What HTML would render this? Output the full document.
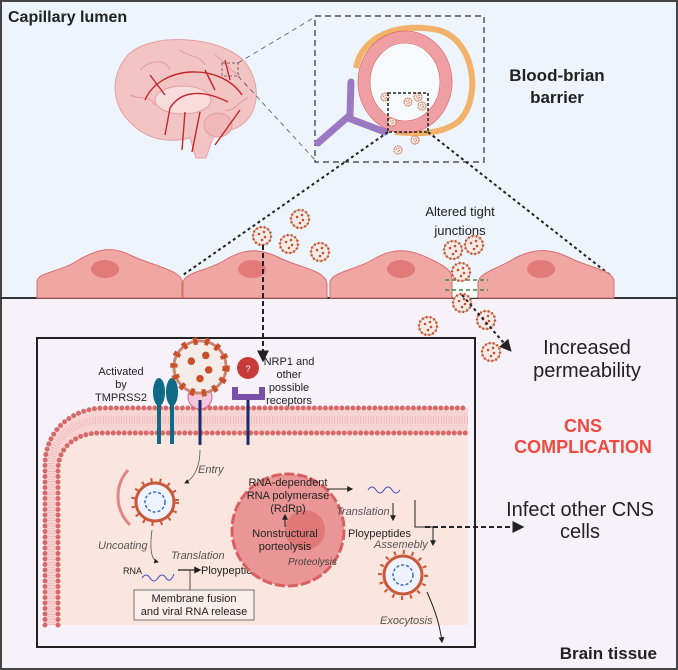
<!DOCTYPE html>
<html><head><meta charset="utf-8"><style>
html,body{margin:0;padding:0;background:#fff}
svg{display:block;font-family:"Liberation Sans",sans-serif}
</style></head><body>
<svg width="678" height="670" viewBox="0 0 678 670" xmlns="http://www.w3.org/2000/svg">
<defs>
<g id="v"><circle r="9" fill="#f3ece8" stroke="#c98670" stroke-width="1"/><circle r="9" fill="none" stroke="#c8502a" stroke-width="2.5" stroke-dasharray="1.5 2.5"/><circle cx="-3" cy="-2" r="1.3" fill="#c8502a"/><circle cx="3" cy="1" r="1.3" fill="#c8502a"/><circle cx="0" cy="4" r="1.3" fill="#c8502a"/><circle cx="2" cy="-4" r="1.3" fill="#c8502a"/></g>
<marker id="ah" viewBox="0 0 10 10" refX="8" refY="5" markerWidth="6" markerHeight="6" orient="auto"><path d="M0,0L10,5L0,10z" fill="#222"/></marker>
</defs>
<rect x="0" y="0" width="678" height="298" fill="#edf4fb"/>
<rect x="0" y="298" width="678" height="372" fill="#f7f1fa"/>
<rect x="1" y="1" width="676" height="668" fill="none" stroke="#444" stroke-width="2"/>
<line x1="0" y1="298" x2="678" y2="298" stroke="#333" stroke-width="2"/>
<text x="8" y="22" font-size="16" font-weight="bold" fill="#222">Capillary lumen</text>
<!-- brain -->
<path d="M128,55 C150,32 220,35 245,62 C262,85 258,110 245,122 C232,134 218,130 212,140 L206,158 L196,158 L190,138 C170,143 148,140 133,125 C110,105 110,75 128,55z" fill="#f3c4c4" stroke="#e6a0a0"/>
<path d="M140,70 C150,60 165,58 170,70 M180,50 C190,58 200,55 205,65 M215,55 C225,62 230,72 240,75 M130,95 C140,100 150,95 155,105 M225,110 C235,112 240,100 248,98" fill="none" stroke="#e39a9a" stroke-width="1"/>
<ellipse cx="183" cy="100" rx="28" ry="14" fill="#f8dcdc" stroke="#e0a0a0"/>
<ellipse cx="218" cy="125" rx="14" ry="12" fill="#f0b8b8" stroke="#e0a0a0"/>
<path d="M145,100 C160,65 220,62 242,95 M165,135 L170,108 C180,92 200,88 228,102 M185,112 L182,150 M200,112 L192,152 M150,75 L165,95 M205,70 L215,90 M225,60 L230,80 M240,110 L215,145" fill="none" stroke="#c0282c" stroke-width="1.4"/>
<rect x="222" y="63" width="16" height="13" fill="none" stroke="#555" stroke-dasharray="3 2" stroke-width="0.8"/>
<line x1="238" y1="63" x2="315" y2="17" stroke="#555" stroke-dasharray="5 4" stroke-width="0.8"/>
<line x1="238" y1="76" x2="315" y2="160" stroke="#555" stroke-dasharray="5 4" stroke-width="0.8"/>
<rect x="315" y="16" width="169" height="146" fill="none" stroke="#333" stroke-dasharray="6 4" stroke-width="1.2"/>
<!-- capillary -->
<path d="M356,68 C362,35 400,22 438,30 C476,40 482,100 458,122 C440,135 418,134 395,132" fill="none" stroke="#f2b26a" stroke-width="6"/>
<path d="M318,143 L350,115 L351,82" fill="none" stroke="#9b79c2" stroke-width="7" stroke-linecap="round"/>
<path d="M348,118 L385,132" stroke="#9b79c2" stroke-width="7" stroke-linecap="round"/>
<ellipse cx="405" cy="82" rx="41" ry="45" fill="#f7fafd" stroke="#ef9ea3" stroke-width="11"/>
<ellipse cx="405" cy="82" rx="35" ry="39" fill="none" stroke="#d66" stroke-width="0.8"/>
<ellipse cx="405" cy="82" rx="47" ry="51" fill="none" stroke="#d66" stroke-width="0.8"/>
<use href="#v" transform="translate(385,97) scale(0.45)"/><use href="#v" transform="translate(418,97) scale(0.45)"/><use href="#v" transform="translate(408,102) scale(0.45)"/><use href="#v" transform="translate(415,140) scale(0.45)"/><use href="#v" transform="translate(398,150) scale(0.45)"/><use href="#v" transform="translate(392,122) scale(0.45)"/><use href="#v" transform="translate(422,106) scale(0.45)"/>
<rect x="388" y="93" width="40" height="39" fill="none" stroke="#222" stroke-dasharray="3 2" stroke-width="1.5"/>
<line x1="388" y1="132" x2="183" y2="275" stroke="#222" stroke-dasharray="3 3" stroke-width="2"/>
<line x1="428" y1="132" x2="610" y2="275" stroke="#222" stroke-dasharray="3 3" stroke-width="2"/>
<text x="557" y="81" font-size="17" font-weight="bold" text-anchor="middle" fill="#222">Blood-brian</text>
<text x="557" y="103" font-size="17" font-weight="bold" text-anchor="middle" fill="#222">barrier</text>
<!-- cells -->
<g fill="#f0a7a3" stroke="#d86f6e" stroke-width="1">
<path d="M37,298 L37,282 C37,272 60,272 75,262 C95,250 110,245 130,255 C150,265 182,270 182,282 L182,298z"/>
<path d="M183,298 L183,282 C185,272 210,270 225,260 C245,248 260,248 280,258 C300,268 327,270 327,285 L327,298z"/>
<path d="M330,298 L330,282 C332,272 355,270 372,260 C392,248 408,248 428,258 C450,268 452,272 452,282 L452,298z"/>
<path d="M478,298 L478,282 C480,272 500,268 515,258 C535,248 550,248 570,258 C590,268 614,270 614,282 L614,298z"/>
</g>
<g fill="#e27a7a"><ellipse cx="105" cy="269" rx="14" ry="9"/><ellipse cx="252" cy="269" rx="14" ry="9"/><ellipse cx="401" cy="269" rx="14" ry="9"/><ellipse cx="541" cy="269" rx="14" ry="9"/></g>
<rect x="453" y="278" width="24" height="20" fill="#fff" opacity="0.8"/>
<line x1="445" y1="280" x2="488" y2="280" stroke="#3a8a3a" stroke-dasharray="4 3" stroke-width="1.5"/>
<line x1="445" y1="290" x2="488" y2="290" stroke="#3a8a3a" stroke-dasharray="4 3" stroke-width="1.5"/>
<text x="460" y="216" font-size="13" text-anchor="middle" fill="#222">Altered tight</text>
<text x="460" y="235" font-size="13" text-anchor="middle" fill="#222">junctions</text>
<use href="#v" transform="translate(262,236)"/><use href="#v" transform="translate(300,219)"/><use href="#v" transform="translate(289,244)"/><use href="#v" transform="translate(320,252)"/>
<use href="#v" transform="translate(453,250)"/><use href="#v" transform="translate(474,245)"/><use href="#v" transform="translate(461,272)"/><use href="#v" transform="translate(462,303)"/><use href="#v" transform="translate(486,320)"/><use href="#v" transform="translate(428,326)"/><use href="#v" transform="translate(491,352)"/>
<line x1="263" y1="245" x2="263" y2="360" stroke="#222" stroke-dasharray="5 3" stroke-width="2" marker-end="url(#ah)"/>
<line x1="462" y1="295" x2="510" y2="350" stroke="#222" stroke-dasharray="3 3" stroke-width="2" marker-end="url(#ah)"/>
<text x="587" y="354" font-size="20" text-anchor="middle" fill="#222">Increased</text>
<text x="587" y="377" font-size="20" text-anchor="middle" fill="#222">permeability</text>
<text x="583" y="432" font-size="18" font-weight="bold" text-anchor="middle" fill="#f04a3f">CNS</text>
<text x="583" y="453" font-size="18" font-weight="bold" text-anchor="middle" fill="#f04a3f">COMPLICATION</text>
<text x="580" y="516" font-size="20" text-anchor="middle" fill="#222">Infect other CNS</text>
<text x="580" y="538" font-size="20" text-anchor="middle" fill="#222">cells</text>
<text x="657" y="659" font-size="17" font-weight="bold" text-anchor="end" fill="#222">Brain tissue</text>
<!-- inner box -->
<rect x="37" y="338" width="438" height="309" fill="none" stroke="#222" stroke-width="2"/>
<path d="M58,625 L58,470 C58,448 75,433 100,433 L468,433 L468,625z" fill="#fae5df"/>
<path d="M45,625 L45,465 C45,432 70,408 105,408 L468,408 L468,433 L100,433 C75,433 58,448 58,470 L58,625z" fill="#f6d4d2"/>
<path d="M45,625 L45,465 C45,432 70,408 105,408 L468,408" fill="none" stroke="#d66a6a" stroke-width="5" stroke-linecap="round" stroke-dasharray="0 5.5"/>
<path d="M58,625 L58,470 C58,448 75,433 100,433 L468,433" fill="none" stroke="#d66a6a" stroke-width="5" stroke-linecap="round" stroke-dasharray="0 5.5"/>
<path d="M51,625 L51,467 C51,440 72,420 102,420 L468,420" fill="none" stroke="#eab0b0" stroke-width="8" stroke-dasharray="0.6 2"/>
<text x="121" y="375" font-size="11" text-anchor="middle" fill="#222">Activated</text>
<text x="121" y="388" font-size="11" text-anchor="middle" fill="#222">by</text>
<text x="121" y="401" font-size="11" text-anchor="middle" fill="#222">TMPRSS2</text>
<g fill="#0f6a86"><ellipse cx="159" cy="392" rx="6" ry="14"/><ellipse cx="172" cy="392" rx="6" ry="14"/><rect x="157" y="400" width="4" height="44"/><rect x="170" y="400" width="4" height="44"/></g>
<circle cx="200" cy="397" r="12" fill="#f4c7df" stroke="#c68"/>
<line x1="200" y1="400" x2="200" y2="445" stroke="#1a2a6e" stroke-width="3"/>
<g transform="translate(200,367) scale(2.9)"><use href="#v"/></g>
<circle cx="248" cy="368" r="11" fill="#c83a3a"/><text x="248" y="372" font-size="9" fill="#fff" text-anchor="middle">?</text>
<path d="M235,387 L235,397 L262,397 L262,387" fill="none" stroke="#7a4fa6" stroke-width="6"/>
<line x1="248" y1="400" x2="248" y2="445" stroke="#1a2a6e" stroke-width="3"/>
<text x="289" y="365" font-size="11" text-anchor="middle" fill="#222">NRP1 and</text>
<text x="289" y="378" font-size="11" text-anchor="middle" fill="#222">other</text>
<text x="289" y="391" font-size="11" text-anchor="middle" fill="#222">possible</text>
<text x="289" y="404" font-size="11" text-anchor="middle" fill="#222">receptors</text>
<!-- infected process -->
<path d="M200,450 C200,465 195,478 185,483" fill="none" stroke="#555" stroke-width="0.8" marker-end="url(#ah)"/>
<text x="198" y="473" font-size="11" font-style="italic" fill="#555">Entry</text>
<path d="M128,470 A40,40 0 0 0 130,525" fill="none" stroke="#d88" stroke-width="3"/>
<circle cx="155" cy="502" r="19" fill="#eef3ff" stroke="#c85a3a" stroke-width="3"/>
<circle cx="155" cy="502" r="22" fill="none" stroke="#c85a3a" stroke-width="4" stroke-dasharray="2 7"/>
<circle cx="155" cy="502" r="10" fill="none" stroke="#3a6ac0" stroke-width="1.5" stroke-dasharray="3 2"/>
<text x="98" y="549" font-size="11" font-style="italic" fill="#555">Uncoating</text>
<path d="M152,530 C150,545 150,560 158,562" fill="none" stroke="#555" stroke-width="0.8" marker-end="url(#ah)"/>
<text x="171" y="559" font-size="11" font-style="italic" fill="#555">Translation</text>
<text x="123" y="574" font-size="9" fill="#222">RNA</text>
<path d="M142,578 q4,-6 8,0 t8,0 t8,0 t8,-4" fill="none" stroke="#3a4ac0" stroke-width="1"/>
<line x1="178" y1="570" x2="200" y2="570" stroke="#222" stroke-width="1.2" marker-end="url(#ah)"/>
<line x1="190" y1="570" x2="190" y2="590" stroke="#222" stroke-width="0.8"/>
<text x="201" y="574" font-size="11" fill="#222">Ploypeptides</text>
<rect x="134" y="590" width="120" height="30" fill="#faeeea" stroke="#555" stroke-width="0.8"/>
<text x="194" y="602" font-size="11" text-anchor="middle" fill="#222">Membrane fusion</text>
<text x="194" y="615" font-size="11" text-anchor="middle" fill="#222">and viral RNA release</text>
<circle cx="288" cy="530" r="56" fill="#eb9696" stroke="#d86060" stroke-width="3" stroke-dasharray="10 3"/>
<circle cx="305" cy="530" r="20" fill="#e07878"/>
<text x="288" y="486" font-size="11" text-anchor="middle" fill="#222">RNA-dependent</text>
<text x="288" y="499" font-size="11" text-anchor="middle" fill="#222">RNA polymerase</text>
<text x="288" y="512" font-size="11" text-anchor="middle" fill="#222">(RdRp)</text>
<text x="285" y="537" font-size="11" text-anchor="middle" fill="#222">Nonstructural</text>
<text x="285" y="550" font-size="11" text-anchor="middle" fill="#222">porteolysis</text>
<text x="288" y="565" font-size="10" font-style="italic" fill="#444">Proteolysis</text>
<line x1="285" y1="527" x2="285" y2="515" stroke="#222" stroke-width="1" marker-end="url(#ah)"/>
<line x1="327" y1="489" x2="352" y2="489" stroke="#222" stroke-width="1" marker-end="url(#ah)"/>
<path d="M368,490 q4,-6 8,0 t8,0 t8,0 t8,0" fill="none" stroke="#3a4ac0" stroke-width="1"/>
<text x="336" y="515" font-size="11" font-style="italic" fill="#555">Translation</text>
<line x1="393" y1="503" x2="393" y2="520" stroke="#222" stroke-width="1" marker-end="url(#ah)"/>
<text x="348" y="537" font-size="11" fill="#222">Ploypeptides</text>
<text x="374" y="548" font-size="11" font-style="italic" fill="#555">Assemebly</text>
<path d="M415,500 L415,527 L433,527 L433,545" fill="none" stroke="#222" stroke-width="1" marker-end="url(#ah)"/>
<line x1="425" y1="527" x2="522" y2="527" stroke="#222" stroke-dasharray="5 3" stroke-width="2" marker-end="url(#ah)"/>
<circle cx="403" cy="575" r="19" fill="#eef3ff" stroke="#c85a3a" stroke-width="3"/>
<circle cx="403" cy="575" r="23" fill="none" stroke="#c85a3a" stroke-width="4" stroke-dasharray="2 7"/>
<circle cx="403" cy="575" r="10" fill="none" stroke="#3a6ac0" stroke-width="1.5" stroke-dasharray="3 2"/>
<text x="380" y="624" font-size="11" font-style="italic" fill="#555">Exocytosis</text>
<path d="M427,592 C435,610 440,625 442,642" fill="none" stroke="#222" stroke-width="1" marker-end="url(#ah)"/>
</svg>
</body></html>
